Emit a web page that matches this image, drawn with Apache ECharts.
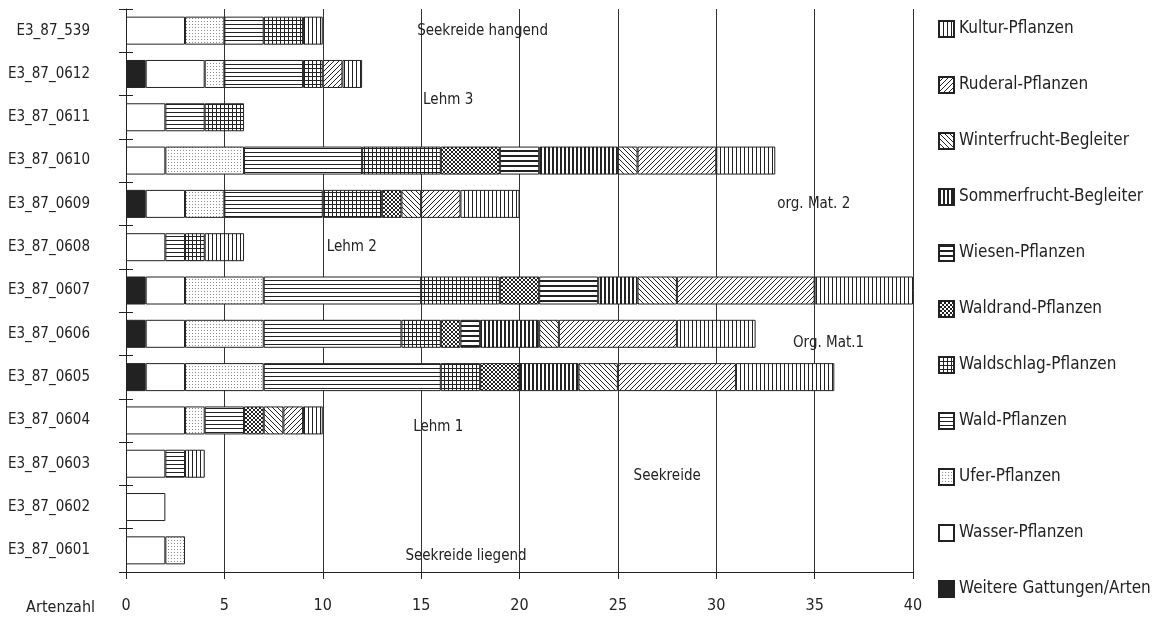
<!DOCTYPE html>
<html lang="de" style="height: 100%">
<head>
  <meta charset="utf-8">
</head>
<body style="height: 100%; margin: 0; background: #fff">
  <div id="container" style="width: 1174px; height: 620px"></div>

  <script type="text/javascript" src="https://cdn.jsdelivr.net/npm/echarts@6/dist/echarts.min.js"></script>
  <script type="text/javascript">
    // Proben von oben nach unten
    var samples = ['E3_87_539', 'E3_87_0612', 'E3_87_0611', 'E3_87_0610', 'E3_87_0609', 'E3_87_0608',
      'E3_87_0607', 'E3_87_0606', 'E3_87_0605', 'E3_87_0604', 'E3_87_0603', 'E3_87_0602', 'E3_87_0601'];

    // Artenzahl je Gruppe (gleiche Reihenfolge wie samples)
    var weitere      = [0, 1, 0, 0, 1, 0, 1, 1, 1, 0, 0, 0, 0];
    var wasser       = [3, 3, 2, 2, 2, 2, 2, 2, 2, 3, 2, 2, 2];
    var ufer         = [2, 1, 0, 4, 2, 0, 4, 4, 4, 1, 0, 0, 1];
    var wald         = [2, 4, 2, 6, 5, 1, 8, 7, 9, 2, 1, 0, 0];
    var waldschlag   = [2, 1, 2, 4, 3, 1, 4, 2, 2, 0, 0, 0, 0];
    var waldrand     = [0, 0, 0, 3, 1, 0, 2, 1, 2, 1, 0, 0, 0];
    var wiesen       = [0, 0, 0, 2, 0, 0, 3, 1, 0, 0, 0, 0, 0];
    var sommerfrucht = [0, 0, 0, 4, 0, 0, 2, 3, 3, 0, 0, 0, 0];
    var winterfrucht = [0, 0, 0, 1, 1, 0, 2, 1, 2, 1, 0, 0, 0];
    var ruderal      = [0, 1, 0, 4, 2, 0, 7, 6, 6, 1, 0, 0, 0];
    var kultur       = [1, 1, 0, 3, 3, 2, 5, 4, 5, 1, 1, 0, 0];

    var xTicks = [0, 40, 5]; // min, max, interval

    // Schichtbezeichnungen im Diagramm
    var annoText = ['Seekreide hangend', 'Lehm 3', 'org. Mat. 2', 'Lehm 2', 'Org. Mat.1', 'Lehm 1', 'Seekreide', 'Seekreide liegend'];
    var annoX    = [14.8, 15.1, 33.1, 10.2, 33.9, 14.6, 25.8, 14.2];
    var annoRow  = ['E3_87_539', 'E3_87_0611', 'E3_87_0609', 'E3_87_0608', 'E3_87_0606', 'E3_87_0604', 'E3_87_0603', 'E3_87_0601'];
    var annoDy   = [0, -17, 0, 0, 9, 7, 12, 6];

    var FONT = "'Liberation Sans Narrow', 'DejaVu Sans Condensed', sans-serif";
    var INK = '#222';

    function tile(w, h, draw) {
      var c = document.createElement('canvas');
      c.width = w; c.height = h;
      var ctx = c.getContext('2d');
      ctx.fillStyle = '#fff';
      ctx.fillRect(0, 0, w, h);
      ctx.fillStyle = INK;
      draw(ctx, w, h);
      return { image: c, repeat: 'repeat' };
    }
    function diag(ctx, s, back, th) {
      for (var i = 0; i < s; i++) {
        for (var t = 0; t < th; t++) {
          var x = back ? (i + t) % s : (s - 1 - i + t) % s;
          ctx.fillRect(x, i, 1, 1);
        }
      }
    }

    var fills = {
      weitere: INK,
      wasser: '#fff',
      ufer: tile(3, 3, function (ctx) { ctx.fillStyle = '#8a8a8a'; ctx.fillRect(0, 0, 1, 1); }),
      wald: tile(4, 4, function (ctx, w) { ctx.fillRect(0, 0, w, 1); }),
      waldschlag: tile(4, 4, function (ctx, w, h) { ctx.fillRect(0, 0, w, 1); ctx.fillRect(0, 0, 1, h); }),
      waldrand: tile(4, 4, function (ctx) { diag(ctx, 4, true, 1); diag(ctx, 4, false, 1); }),
      wiesen: tile(5, 5, function (ctx, w) { ctx.fillRect(0, 0, w, 2); }),
      sommerfrucht: tile(4, 4, function (ctx, w, h) { ctx.fillRect(0, 0, 2, h); }),
      winterfrucht: tile(5, 5, function (ctx) { diag(ctx, 5, true, 1); }),
      ruderal: tile(5, 5, function (ctx) { diag(ctx, 5, false, 1); }),
      kultur: tile(4, 4, function (ctx, w, h) { ctx.fillRect(0, 0, 1, h); })
    };

    var groups = [
      ['Weitere Gattungen/Arten', weitere, fills.weitere],
      ['Wasser-Pflanzen', wasser, fills.wasser],
      ['Ufer-Pflanzen', ufer, fills.ufer],
      ['Wald-Pflanzen', wald, fills.wald],
      ['Waldschlag-Pflanzen', waldschlag, fills.waldschlag],
      ['Waldrand-Pflanzen', waldrand, fills.waldrand],
      ['Wiesen-Pflanzen', wiesen, fills.wiesen],
      ['Sommerfrucht-Begleiter', sommerfrucht, fills.sommerfrucht],
      ['Winterfrucht-Begleiter', winterfrucht, fills.winterfrucht],
      ['Ruderal-Pflanzen', ruderal, fills.ruderal],
      ['Kultur-Pflanzen', kultur, fills.kultur]
    ];

    var series = groups.map(function (g) {
      return {
        name: g[0],
        type: 'bar',
        stack: 'arten',
        barWidth: 28,
        data: g[1].map(function (v) { return v === 0 ? null : v; }),
        itemStyle: { color: g[2], borderColor: INK, borderWidth: 1 },
        emphasis: { disabled: true }
      };
    });

    series.push({
      type: 'scatter',
      symbolSize: 0,
      silent: true,
      z: 5,
      itemStyle: { opacity: 1 },
      data: annoText.map(function (t, i) {
        return {
          name: t,
          value: [annoX[i], annoRow[i]],
          label: { offset: [0, annoDy[i]] }
        };
      }),
      label: {
        show: true,
        position: 'right',
        distance: 0,
        formatter: '{b}',
        color: INK,
        opacity: 1,
        fontFamily: FONT,
        fontSize: 15
      }
    });

    var dom = document.getElementById('container');
    var myChart = echarts.init(dom, null, { renderer: 'canvas' });

    var option = {
      animation: false,
      backgroundColor: '#fff',
      textStyle: { fontFamily: FONT, color: INK },
      grid: { left: 126, right: 261, top: 9, bottom: 48, containLabel: false },
      legend: {
        orient: 'vertical',
        left: 938,
        top: 20,
        padding: 0,
        icon: 'rect',
        itemWidth: 15,
        itemHeight: 16,
        itemGap: 38,
        selectedMode: false,
        data: groups.map(function (g) { return g[0]; }).reverse(),
        textStyle: { fontFamily: FONT, fontSize: 17, lineHeight: 18, color: INK }
      },
      xAxis: {
        type: 'value',
        min: xTicks[0],
        max: xTicks[1],
        interval: xTicks[2],
        axisLine: { show: true, lineStyle: { color: INK, width: 1 } },
        axisTick: { show: true, length: 7, lineStyle: { color: INK } },
        axisLabel: { fontFamily: FONT, fontSize: 16, color: INK, margin: 26 },
        splitLine: { show: true, lineStyle: { color: '#333', width: 1 } }
      },
      yAxis: [{
        type: 'category',
        inverse: true,
        data: samples,
        axisLine: { show: true, lineStyle: { color: INK, width: 1 } },
        axisTick: { show: true, length: 7, lineStyle: { color: INK } },
        axisLabel: { fontFamily: FONT, fontSize: 15, color: INK, margin: 36 },
        splitLine: { show: false }
      }, {
        type: 'category',
        inverse: true,
        position: 'left',
        data: samples,
        axisLine: { show: false },
        axisTick: { show: true, inside: true, length: 7, lineStyle: { color: INK } },
        axisLabel: { show: false },
        splitLine: { show: false }
      }],
      graphic: [{
        type: 'text',
        x: 95,
        y: 608,
        style: {
          text: 'Artenzahl',
          align: 'right',
          verticalAlign: 'middle',
          font: '16px ' + FONT,
          fill: INK
        }
      }],
      series: series
    };

    myChart.setOption(option);
    window.addEventListener('resize', myChart.resize);
  </script>
</body>
</html>
